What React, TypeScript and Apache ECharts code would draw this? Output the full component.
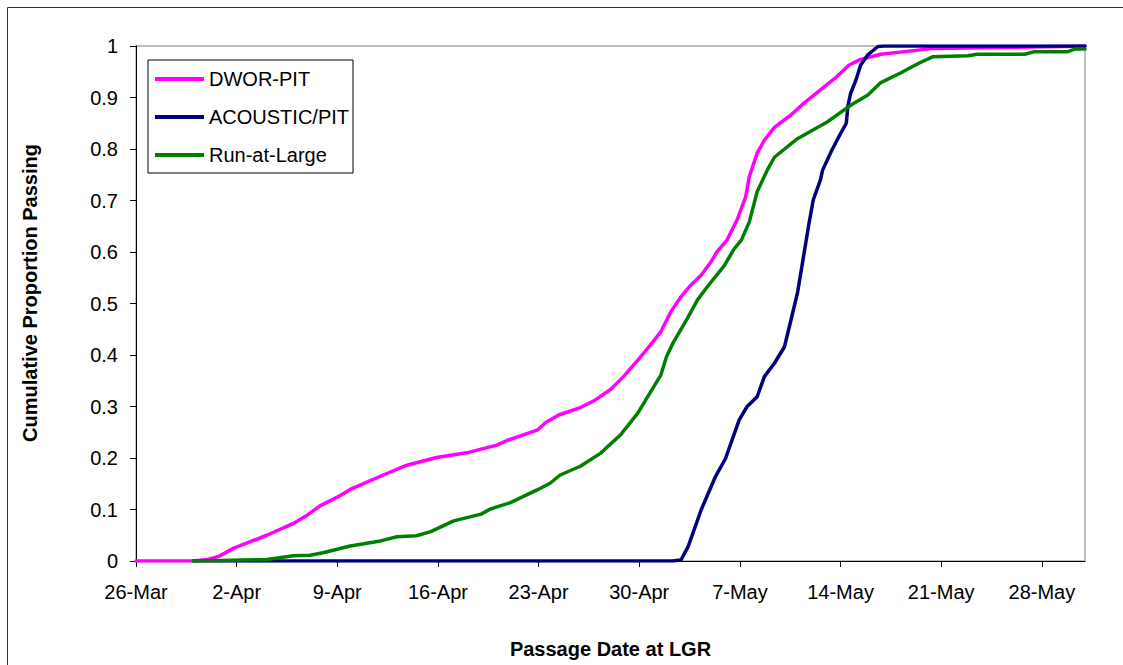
import React, { useEffect, useRef } from "react";
import * as echarts from "echarts";

// x values are days after 26-Mar
const tickLabels = ["26-Mar", "2-Apr", "9-Apr", "16-Apr", "23-Apr", "30-Apr", "7-May", "14-May", "21-May", "28-May"];

const dworDays = [0, 4.0, 5.0, 5.85, 6.8, 8.0, 9.1, 10.95, 11.9, 12.8, 14.0, 14.9, 17.2, 18.85, 20.9, 23.0, 25.1, 25.8, 27.9, 28.5, 29.4, 30.9, 31.85, 33.0, 33.9, 34.9, 35.8, 36.5, 37.2, 37.9, 38.6, 39.3, 39.97, 40.4, 41.1, 41.8, 42.4, 42.65, 43.2, 43.7, 44.4, 45.55, 46.5, 47.6, 48.6, 49.6, 50.4, 51.8, 54.1, 55.3, 60.0, 64.3, 66];
const dworValues = [0, 0, 0.003, 0.01, 0.025, 0.038, 0.05, 0.073, 0.089, 0.107, 0.124, 0.139, 0.167, 0.186, 0.201, 0.21, 0.225, 0.234, 0.254, 0.269, 0.2835, 0.298, 0.311, 0.333, 0.358, 0.39, 0.42, 0.445, 0.484, 0.513, 0.536, 0.555, 0.58, 0.6, 0.623, 0.662, 0.707, 0.746, 0.792, 0.817, 0.842, 0.866, 0.89, 0.915, 0.937, 0.963, 0.974, 0.984, 0.991, 0.995, 0.997, 0.999, 1];

const acousticDays = [4.0, 37.3, 37.9, 38.4, 39.3, 40.3, 41.0, 41.95, 42.5, 43.2, 43.7, 44.4, 45.1, 45.55, 46.0, 46.5, 46.8, 47.1, 47.6, 47.75, 48.4, 49.0, 49.4, 49.5, 49.7, 50.07, 50.4, 50.9, 51.6, 52.0, 66];
const acousticValues = [0, 0, 0.002, 0.028, 0.099, 0.164, 0.199, 0.274, 0.3, 0.319, 0.358, 0.384, 0.416, 0.468, 0.52, 0.604, 0.655, 0.701, 0.74, 0.759, 0.798, 0.83, 0.85, 0.882, 0.908, 0.934, 0.963, 0.983, 0.999, 1, 1];

const runDays = [4.0, 9.1, 10.95, 12.1, 13.0, 14.9, 17.0, 18.15, 19.5, 20.5, 22.1, 24.0, 24.65, 26.0, 27.9, 28.8, 29.5, 30.9, 32.3, 33.7, 34.9, 35.8, 36.5, 36.9, 37.4, 38.35, 39.05, 39.75, 40.9, 41.6, 42.1, 42.65, 43.2, 43.9, 44.4, 46.0, 48.1, 49.25, 49.7, 50.9, 51.8, 53.2, 54.4, 55.4, 57.85, 58.5, 61.8, 62.5, 64.8, 65.3, 66];
const runValues = [0, 0.003, 0.01, 0.011, 0.016, 0.029, 0.039, 0.047, 0.049, 0.057, 0.078, 0.091, 0.101, 0.113, 0.138, 0.151, 0.167, 0.184, 0.209, 0.245, 0.287, 0.329, 0.361, 0.397, 0.426, 0.471, 0.507, 0.533, 0.573, 0.606, 0.623, 0.658, 0.717, 0.759, 0.784, 0.82, 0.853, 0.876, 0.885, 0.905, 0.929, 0.948, 0.966, 0.979, 0.981, 0.984, 0.984, 0.989, 0.989, 0.994, 0.994];

const seriesNames = ["DWOR-PIT", "ACOUSTIC/PIT", "Run-at-Large"];
const seriesColors = ["#FF00FF", "#000080", "#008000"];

const FONT = "'Liberation Sans', Arial, sans-serif";

function pairs(xs: number[], ys: number[]) {
  return xs.map((x, i) => [x, ys[i]]);
}

export default function App() {
  const ref = useRef<HTMLDivElement>(null);
  useEffect(() => {
    if (!ref.current) return;
    const chart = echarts.init(ref.current, undefined, { renderer: "svg" });
    const datasets = [pairs(dworDays, dworValues), pairs(acousticDays, acousticValues), pairs(runDays, runValues)];
    chart.setOption({
      animation: false,
      backgroundColor: "#ffffff",
      textStyle: { fontFamily: FONT },
      grid: { left: 136, top: 46, right: 38, bottom: 104, show: true, borderColor: "#808080", borderWidth: 1 },
      xAxis: {
        type: "value",
        min: 0,
        max: 66,
        interval: 7,
        name: "Passage Date at LGR",
        nameLocation: "middle",
        nameGap: 78,
        nameTextStyle: { fontFamily: FONT, fontSize: 20, fontWeight: "bold", color: "#000" },
        axisLine: { show: true, lineStyle: { color: "#000", width: 1 } },
        axisTick: { show: true, inside: false, length: 6, lineStyle: { color: "#000" } },
        axisLabel: {
          color: "#000",
          fontFamily: FONT,
          fontSize: 20,
          margin: 21,
          showMaxLabel: false,
          formatter: (v: number) => tickLabels[Math.round(v / 7)] ?? "",
        },
        splitLine: { show: false },
      },
      yAxis: {
        type: "value",
        min: 0,
        max: 1,
        interval: 0.1,
        axisLine: { show: true, lineStyle: { color: "#000", width: 1 } },
        axisTick: { show: true, inside: false, length: 6, lineStyle: { color: "#000" } },
        axisLabel: {
          color: "#000",
          fontFamily: FONT,
          fontSize: 20,
          margin: 18,
          formatter: (v: number) => String(Math.round(v * 10) / 10),
        },
        splitLine: { show: false },
      },
      legend: {
        orient: "vertical",
        left: 155,
        top: 69,
        padding: 0,
        itemWidth: 49,
        itemHeight: 4,
        itemGap: 18,
        icon: "rect",
        z: 20,
        textStyle: { fontFamily: FONT, fontSize: 20, lineHeight: 20, color: "#000" },
        data: seriesNames,
      },
      graphic: [
        {
          type: "rect",
          left: 5,
          top: 5,
          shape: { x: 0, y: 0, width: 1200, height: 720 },
          style: { fill: "none", stroke: "#333", lineWidth: 1 },
          silent: true,
          z: -10,
        },
        {
          type: "rect",
          shape: { x: 148, y: 60, width: 205, height: 113 },
          style: { fill: "#fff", stroke: "#000", lineWidth: 1 },
          silent: true,
          z: 5,
        },
        {
          type: "text",
          x: 30,
          y: 293,
          rotation: Math.PI / 2,
          style: {
            text: "Cumulative Proportion Passing",
            fontFamily: FONT,
            fontSize: 20,
            fontWeight: "bold",
            fill: "#000",
            align: "center",
            verticalAlign: "middle",
          },
          z: 100,
        },
      ],
      series: datasets.map((d, i) => ({
        name: seriesNames[i],
        type: "line",
        data: d,
        showSymbol: false,
        symbol: "none",
        smooth: false,
        color: seriesColors[i],
        lineStyle: { color: seriesColors[i], width: 3.5, join: "round", cap: "round" },
        z: 2,
      })),
    });
    return () => chart.dispose();
  }, []);
  return <div ref={ref} style={{ position: "absolute", left: 0, top: 0, width: 1123, height: 665 }} />;
}
